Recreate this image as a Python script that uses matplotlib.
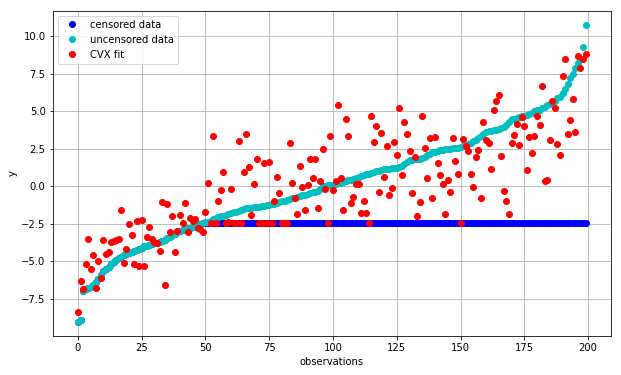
import numpy as np
import matplotlib
matplotlib.use('Agg')
import matplotlib.pyplot as plt

# threshold used for the censored observations
D = -2.44

# sorted observations (uncensored)
y_true = [
    -9.0, -8.9, -6.95, -6.85, -6.75, -6.7, -6.55, -6.4, -6.2, -5.9,
    -5.65, -5.5, -5.35, -5.2, -5.05, -4.9, -4.8, -4.7, -4.6, -4.5,
    -4.45, -4.4, -4.3, -4.25, -4.15, -4.1, -4.0, -3.95, -3.9, -3.85,
    -3.8, -3.75, -3.7, -3.65, -3.55, -3.45, -3.35, -3.25, -3.15, -3.05,
    -2.98, -2.92, -2.85, -2.8, -2.75, -2.7, -2.65, -2.58, -2.5, -2.45,
    -2.4, -2.35, -2.3, -2.2, -2.1, -2.05, -2.0, -1.95, -1.9, -1.85,
    -1.78, -1.72, -1.68, -1.62, -1.55, -1.5, -1.47, -1.45, -1.42, -1.4,
    -1.38, -1.35, -1.32, -1.3, -1.27, -1.24, -1.2, -1.15, -1.1, -1.05,
    -1.0, -0.95, -0.9, -0.85, -0.8, -0.75, -0.7, -0.65, -0.6, -0.55,
    -0.5, -0.45, -0.4, -0.35, -0.3, -0.2, 0.0, 0.05, 0.08, 0.1,
    0.12, 0.15, 0.2, 0.25, 0.3, 0.35, 0.4, 0.45, 0.5, 0.55,
    0.6, 0.68, 0.75, 0.8, 0.85, 0.9, 0.95, 1.0, 1.05, 1.1,
    1.12, 1.15, 1.18, 1.2, 1.22, 1.25, 1.3, 1.35, 1.5, 1.65,
    1.75, 1.78, 1.8, 1.82, 1.85, 1.9, 1.95, 2.05, 2.15, 2.25,
    2.3, 2.35, 2.4, 2.42, 2.45, 2.48, 2.5, 2.52, 2.55, 2.58,
    2.6, 2.65, 2.72, 2.8, 2.9, 3.0, 3.1, 3.2, 3.35, 3.5,
    3.6, 3.65, 3.7, 3.72, 3.75, 3.8, 3.85, 3.95, 4.1, 4.3,
    4.45, 4.5, 4.55, 4.6, 4.65, 4.7, 4.75, 4.8, 4.9, 5.0,
    5.05, 5.1, 5.2, 5.3, 5.4, 5.5, 5.6, 5.7, 5.85, 5.95,
    6.2, 6.5, 6.8, 7.2, 7.5, 7.9, 8.2, 8.5, 9.3, 10.7,
]

# fitted values
cvx_fit = [
    -8.35, -6.3, -6.8, -5.15, -3.5, -5.5, -4.6, -6.75, -4.95, -6.1,
    -3.55, -4.5, -4.35, -3.7, -3.65, -3.6, -3.5, -1.55, -5.1, -4.2,
    -2.5, -3.25, -5.2, -2.3, -5.3, -2.25, -5.3, -3.4, -2.7, -3.5,
    -3.7, -3.8, -4.3, -1.05, -6.55, -1.2, -3.05, -2.0, -4.35, -3.0,
    -1.9, -2.45, -1.1, -3.05, -2.1, -2.3, -2.2, -2.75, -2.85, -3.05,
    -1.7, 0.25, -2.45, 3.35, -2.45, -1.0, -0.25, 0.95, -2.45, -2.4,
    -0.15, -2.45, -2.45, 3.0, -2.45, 0.95, 3.45, 1.3, -1.9, 0.15,
    1.8, -2.45, -2.45, 1.55, -2.45, 1.65, -2.45, -1.0, 0.6, -0.45,
    -2.45, -2.45, -2.45, 2.85, 0.25, -0.75, -1.85, 1.35, -0.05, -1.6,
    0.1, 1.8, 0.55, 1.8, -1.45, 0.35, 2.45, -0.2, -2.45, 3.35,
    -0.25, 0.35, 5.4, 0.55, -1.6, 4.5, 3.35, -1.1, -0.7, 0.15,
    0.15, -1.75, -1.0, -1.75, -2.45, 4.7, 2.95, 4.0, -0.4, 3.55,
    0.6, 2.7, -0.55, -0.1, 2.95, 2.1, 5.2, 0.75, 4.3, 3.5,
    2.35, -0.45, 1.95, -1.95, -1.05, 4.65, 2.55, 0.55, 3.2, -0.8,
    3.25, 1.55, 0.75, 0.15, -1.85, 0.4, -0.4, 3.2, 1.7, 0.8,
    -2.45, 3.15, 2.7, 2.35, 0.85, -0.05, 1.95, 2.4, -0.8, 4.25,
    3.1, 2.85, 1.15, 5.05, 5.7, 6.05, 2.0, -0.3, -0.95, -1.85,
    2.85, 3.4, 4.15, 2.75, 4.6, 4.0, 1.1, 3.25, 2.2, 3.35,
    4.7, 4.1, 6.65, 0.35, 0.45, 3.05, 5.65, 5.2, 2.8, 2.05,
    7.35, 8.45, 3.5, 4.4, 5.8, 3.6, 8.7, 7.9, 8.45, 8.8,
]

data_2 = np.array(y_true)
data_1 = np.minimum(data_2, D)


def plot_fit(fit, fit_label):
    fig = plt.figure(figsize=(621 / 72, 375 / 72), dpi=72)
    ax = fig.add_axes([0.0847, 0.103, 0.899, 0.8685])
    ax.grid(color='#b0b0b0', linewidth=0.8)
    ax.set_axisbelow(True)
    ax.plot(data_1, 'bo', label='censored data')
    ax.plot(data_2, 'co', label='uncensored data')
    ax.plot(fit, 'ro', label=fit_label)
    ax.legend(loc='upper left')
    ax.set_xlabel('observations')
    ax.set_ylabel('y')
    fig.savefig('out.png', dpi=72)


plot_fit(cvx_fit, 'CVX fit')
